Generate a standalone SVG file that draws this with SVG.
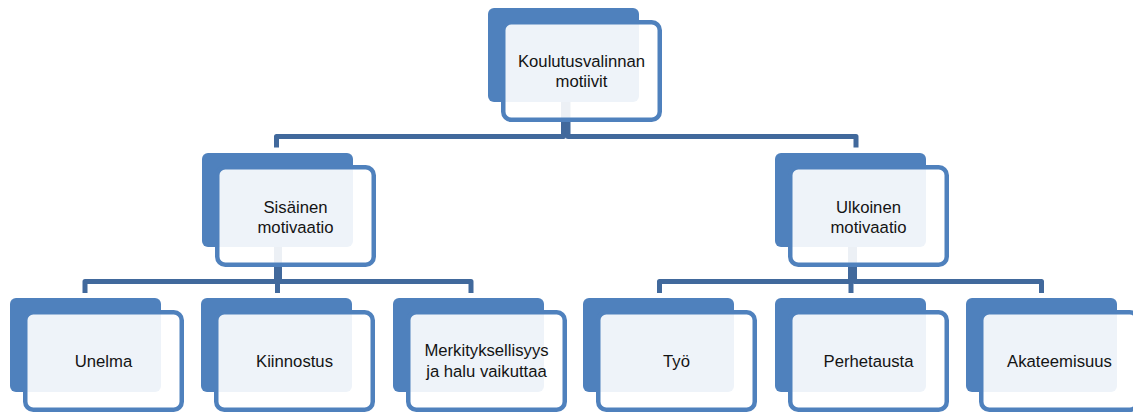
<svg xmlns="http://www.w3.org/2000/svg" width="1133" height="414" viewBox="0 0 1133 414">
  <defs>
    <style>
      .back { fill: #4F81BD; }
      .front { fill: #FFFFFF; fill-opacity: 0.9; stroke: #4F81BD; stroke-width: 4.5; }
      .conn { fill: none; stroke: #41699C; stroke-width: 5; stroke-linejoin: round; }
      .lbl { font-family: "Liberation Sans", Arial, sans-serif; font-size: 16.7px; fill: #141414; text-anchor: middle; }
    </style>
  </defs>
  <rect width="1133" height="414" fill="#FFFFFF"/>

  <g id="connectors">
    <path class="conn" d="M563.5,100 V136.5 H276.5 V147.5"/>
    <path class="conn" d="M568,100 V136.5 H856 V147.5"/>
    <path class="conn" d="M276.5,240 V281.5 H85 V293"/>
    <path class="conn" d="M277.5,240 V293"/>
    <path class="conn" d="M279.5,240 V281.5 H471 V293"/>
    <path class="conn" d="M850.5,240 V281.5 H659.5 V293"/>
    <path class="conn" d="M851,240 V293"/>
    <path class="conn" d="M854.5,240 V281.5 H1041.5 V293"/>
  </g>

  <g id="node-koulutusvalinnan">
    <rect class="back" x="488" y="8" width="151" height="94" rx="6"/>
    <rect class="front" x="503.25" y="22.25" width="156.5" height="97.5" rx="8"/>
    <text class="lbl" x="581.5" y="66.7">Koulutusvalinnan</text>
    <text class="lbl" x="581.5" y="87.3">motiivit</text>
  </g>

  <g id="node-sisainen">
    <rect class="back" x="202" y="153" width="151" height="94" rx="6"/>
    <rect class="front" x="217.25" y="167.25" width="156.5" height="97.5" rx="8"/>
    <text class="lbl" x="295.5" y="212.7">Sisäinen</text>
    <text class="lbl" x="295.5" y="232.7">motivaatio</text>
  </g>

  <g id="node-ulkoinen">
    <rect class="back" x="775" y="153" width="151" height="94" rx="6"/>
    <rect class="front" x="790.25" y="167.25" width="156.5" height="97.5" rx="8"/>
    <text class="lbl" x="868.5" y="212.7">Ulkoinen</text>
    <text class="lbl" x="868.5" y="232.7">motivaatio</text>
  </g>

  <g id="node-unelma">
    <rect class="back" x="10" y="298" width="151" height="94" rx="6"/>
    <rect class="front" x="25.25" y="312.25" width="156.5" height="97.5" rx="8"/>
    <text class="lbl" x="103.5" y="366.7">Unelma</text>
  </g>

  <g id="node-kiinnostus">
    <rect class="back" x="201" y="298" width="151" height="94" rx="6"/>
    <rect class="front" x="216.25" y="312.25" width="156.5" height="97.5" rx="8"/>
    <text class="lbl" x="294.5" y="366.7">Kiinnostus</text>
  </g>

  <g id="node-merkityksellisyys">
    <rect class="back" x="393" y="298" width="151" height="94" rx="6"/>
    <rect class="front" x="408.25" y="312.25" width="156.5" height="97.5" rx="8"/>
    <text class="lbl" x="486.5" y="356">Merkityksellisyys</text>
    <text class="lbl" x="486.5" y="376.5">ja halu vaikuttaa</text>
  </g>

  <g id="node-tyo">
    <rect class="back" x="583" y="298" width="151" height="94" rx="6"/>
    <rect class="front" x="598.25" y="312.25" width="156.5" height="97.5" rx="8"/>
    <text class="lbl" x="676.5" y="366.7">Työ</text>
  </g>

  <g id="node-perhetausta">
    <rect class="back" x="775" y="298" width="151" height="94" rx="6"/>
    <rect class="front" x="790.25" y="312.25" width="156.5" height="97.5" rx="8"/>
    <text class="lbl" x="868.5" y="366.7">Perhetausta</text>
  </g>

  <g id="node-akateemisuus">
    <rect class="back" x="966" y="298" width="151" height="94" rx="6"/>
    <rect class="front" x="981.25" y="312.25" width="156.5" height="97.5" rx="8"/>
    <text class="lbl" x="1059.5" y="366.7">Akateemisuus</text>
  </g>
</svg>
